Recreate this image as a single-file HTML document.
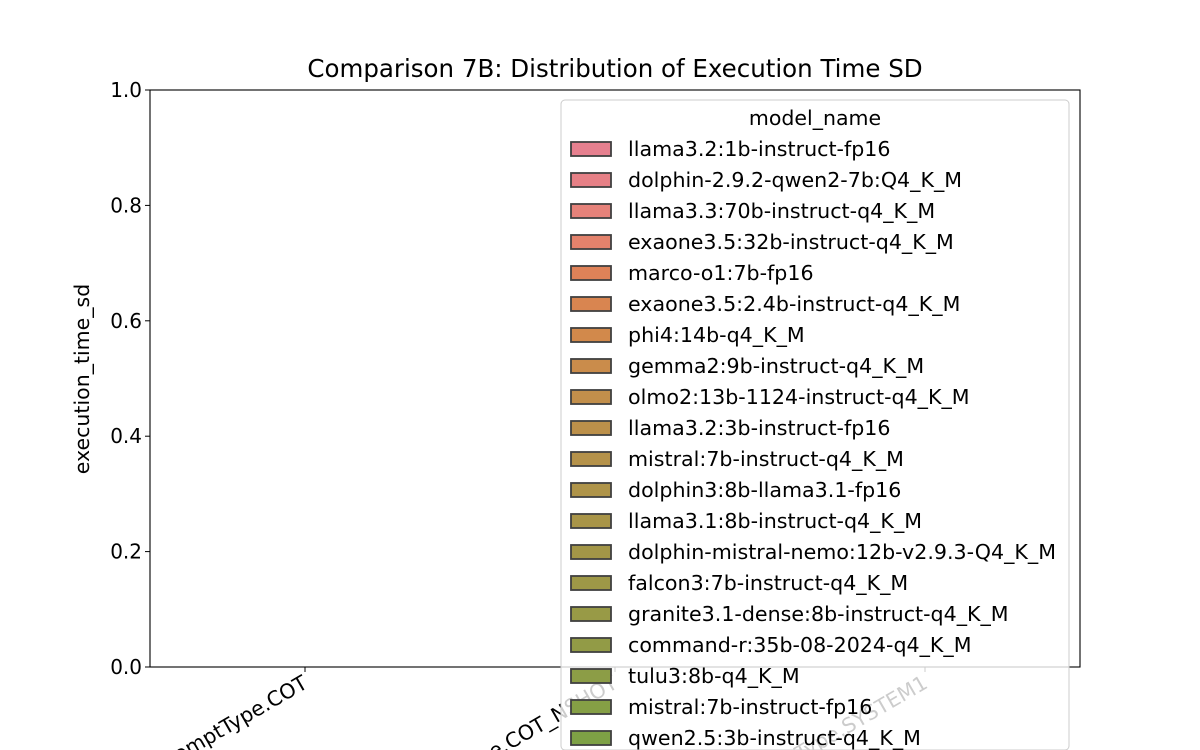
<!DOCTYPE html>
<html><head><meta charset="utf-8"><style>
html,body{margin:0;padding:0;background:#fff;width:1200px;height:750px;overflow:hidden;}
svg{display:block;font-family:"DejaVu Sans","Liberation Sans",sans-serif;}
</style></head><body>
<svg id="chart" width="1200" height="750" viewBox="0 0 1200 750">
<text x="615" y="77" font-size="24.5" text-anchor="middle" fill="#000">Comparison 7B: Distribution of Execution Time SD</text>
<g id="yaxis"></g>
<g id="xaxis"></g>
<text transform="translate(89,379) rotate(-90)" font-size="20.5" text-anchor="middle">execution_time_sd</text>
<rect x="150" y="90" width="930" height="577" fill="none" stroke="#000" stroke-width="1.1"/>
<g id="legend"></g>
</svg>
<script>
const categories = ["PromptType.COT", "PromptType.COT_NSHOT", "PromptType.SYSTEM1"];
const yTicks = [0.0, 0.2, 0.4, 0.6, 0.8, 1.0];
const yTickLabels = ["0.0", "0.2", "0.4", "0.6", "0.8", "1.0"];
const models = ["llama3.2:1b-instruct-fp16","dolphin-2.9.2-qwen2-7b:Q4_K_M","llama3.3:70b-instruct-q4_K_M","exaone3.5:32b-instruct-q4_K_M","marco-o1:7b-fp16","exaone3.5:2.4b-instruct-q4_K_M","phi4:14b-q4_K_M","gemma2:9b-instruct-q4_K_M","olmo2:13b-1124-instruct-q4_K_M","llama3.2:3b-instruct-fp16","mistral:7b-instruct-q4_K_M","dolphin3:8b-llama3.1-fp16","llama3.1:8b-instruct-q4_K_M","dolphin-mistral-nemo:12b-v2.9.3-Q4_K_M","falcon3:7b-instruct-q4_K_M","granite3.1-dense:8b-instruct-q4_K_M","command-r:35b-08-2024-q4_K_M","tulu3:8b-q4_K_M","mistral:7b-instruct-fp16","qwen2.5:3b-instruct-q4_K_M"];
const modelColors = ["#e6808f","#e68086","#e6827a","#e4826c","#df8258","#d98550","#d2894b","#ca8c4b","#c28f4b","#bc904a","#b5924a","#af9449","#a99548","#a39647","#9e9847","#989a46","#929b46","#8c9d46","#859f45","#7ea145"];

const NS="http://www.w3.org/2000/svg";
const L=150,R=1080,T=90,B=667;
const y=v=>B-(v-0)/(1-0)*(B-T);
const x=i=>L+(i+0.5)*(R-L)/categories.length;
function mk(tag,attrs,parent,text){const e=document.createElementNS(NS,tag);for(const k in attrs)e.setAttribute(k,attrs[k]);if(text!==undefined)e.textContent=text;parent.appendChild(e);return e;}
const ya=document.getElementById('yaxis');
yTicks.forEach((t,i)=>{
  const l=mk('line',{x1:L-5,x2:L,y1:y(t),y2:y(t),stroke:'#000','stroke-width':1},ya);
  
  
  const tx=mk('text',{x:L-8,y:y(t)+7,'font-size':20,'text-anchor':'end'},ya,yTickLabels[i]);
  
  
});
const xa=document.getElementById('xaxis');
categories.forEach((c,i)=>{
  const l=mk('line',{x1:x(i),x2:x(i),y1:B,y2:B+5,stroke:'#000','stroke-width':1},xa);
  
  
  const tx=mk('text',{transform:`translate(${x(i)+4},${B+20}) rotate(-30)`,'font-size':20.5,'text-anchor':'end'},xa,c);
  
  
});
const lg=document.getElementById('legend');
const box=mk('rect',{x:561,y:100,width:508,height:650,rx:4,fill:'rgba(255,255,255,0.8)',stroke:'#cccccc','stroke-width':1},lg);


const lt=mk('text',{x:815,y:125,'font-size':20.5,'text-anchor':'middle'},lg,'model_name');


models.forEach((m,i)=>{
  const cy=149+i*31;
  const g=mk('g',{},lg);
  
  
  mk('rect',{x:571,y:cy-7,width:40,height:14,fill:modelColors[i],stroke:'#404040','stroke-width':1.8},g);
  mk('text',{x:628,y:cy+7,'font-size':20.6},g,m);
});
</script>
</body></html>
